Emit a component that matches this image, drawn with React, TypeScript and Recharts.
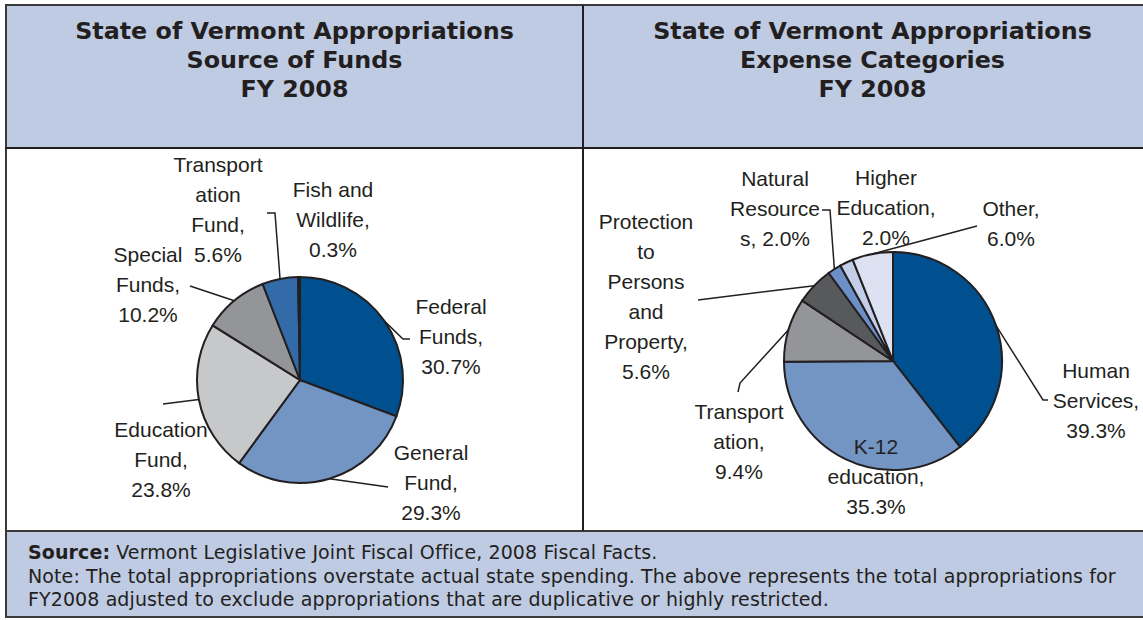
import React from 'react';
import { Cell, Pie, PieChart } from 'recharts';

const INK = '#231f20';
const PANEL = '#bfcbe3';
const RULE = '#3a3a3a';

// left pie: where the money comes from (percent of total appropriations)
const fundNames = ['Federal Funds', 'General Fund', 'Education Fund', 'Special Funds', 'Transportation Fund', 'Fish and Wildlife'];
const fundShares = [30.7, 29.3, 23.8, 10.2, 5.6, 0.3];
const fundColors = ['#00508f', '#7395c4', '#c7c8ca', '#939598', '#336aa8', '#231f20'];
const fundLabelLines = [
  ['Federal', 'Funds,'],
  ['General', 'Fund,'],
  ['Education', 'Fund,'],
  ['Special', 'Funds,'],
  ['Transport', 'ation', 'Fund,'],
  ['Fish and', 'Wildlife,'],
];

// right pie: what it is spent on
const expenseNames = ['Human Services', 'K-12 education', 'Transportation', 'Protection to Persons and Property', 'Natural Resources', 'Higher Education', 'Other'];
const expenseShares = [39.3, 35.3, 9.4, 5.6, 2.0, 2.0, 6.0];
const expenseColors = ['#00508f', '#7395c4', '#939598', '#58595b', '#6b8fc6', '#c3cfe8', '#dce2f1'];
const expenseLabelLines = [
  ['Human', 'Services,'],
  ['K-12', 'education,'],
  ['Transport', 'ation,'],
  ['Protection', 'to', 'Persons', 'and', 'Property,'],
  ['Natural', 'Resource', 's,'],
  ['Higher', 'Education,'],
  ['Other,'],
];

const fundData = fundNames.map((name, i) => ({ name, value: fundShares[i] }));
const expenseData = expenseNames.map((name, i) => ({ name, value: expenseShares[i] }));

// label placement, offsets from the pie centre (first text line centre, leader bends)
type Placement = { dx: number; dy: number; join?: boolean; leader?: number[][] };

const fundPlacement: Placement[] = [
  { dx: 151, dy: -73, leader: [[103, -41], [110, -41]] },
  { dx: 131, dy: 73, leader: [[88, 107]] },
  { dx: -139, dy: 50, leader: [[-137, 24]] },
  { dx: -152, dy: -125, leader: [[-110, -94]] },
  { dx: -82, dy: -215, leader: [[-25, -167], [-33, -167]] },
  { dx: 33, dy: -190 },
];

const expensePlacement: Placement[] = [
  { dx: 203, dy: 10, leader: [[150, 39], [155, 39]] },
  { dx: -17, dy: 86 },
  { dx: -154, dy: 51, leader: [[-153, 22], [-155, 31]] },
  { dx: -247, dy: -139, leader: [[-195, -61]] },
  { dx: -118, dy: -182, join: true, leader: [[-63, -151], [-71, -151]] },
  { dx: -7, dy: -183 },
  { dx: 118, dy: -152, leader: [[84, -135]] },
];

const NO_MARGIN = { top: 0, right: 0, bottom: 0, left: 0 };

function pieLabel(lines: string[][], place: Placement[]) {
  return (props: any) => {
    const { cx, cy, midAngle, outerRadius, index, value } = props;
    const p = place[index];
    const pct = `${Number(value).toFixed(1)}%`;
    const src = lines[index];
    const rows = p.join ? [...src.slice(0, -1), `${src[src.length - 1]} ${pct}`] : [...src, pct];
    const tx = cx + p.dx;
    const ty = cy + p.dy;
    let leader = null;
    if (p.leader) {
      const a = (-midAngle * Math.PI) / 180;
      const pts = [[cx + outerRadius * Math.cos(a), cy + outerRadius * Math.sin(a)], ...p.leader.map(([x, y]) => [cx + x, cy + y])];
      leader = <polyline points={pts.map((q) => q.join(',')).join(' ')} fill="none" stroke={INK} strokeWidth={1.5} />;
    }
    return (
      <g key={`lbl-${index}`}>
        {leader}
        <text x={tx} y={ty} textAnchor="middle" fill={INK} fontSize={21} fontFamily="'Liberation Sans', Arial, sans-serif">
          {rows.map((r, i) => (
            <tspan key={i} x={tx} y={ty + i * 30} dy="0.35em">
              {r}
            </tspan>
          ))}
        </text>
      </g>
    );
  };
}

const titleStyle: React.CSSProperties = {
  position: 'absolute',
  top: 17,
  width: 577,
  textAlign: 'center',
  fontFamily: "'DejaVu Sans', Verdana, sans-serif",
  fontWeight: 'bold',
  fontSize: 23.8,
  lineHeight: '29px',
  color: INK,
};

export default function App() {
  return (
    <div style={{ position: 'absolute', left: 0, top: 0, width: 1143, height: 620, overflow: 'hidden', background: '#fff' }}>
      <div style={{ position: 'absolute', left: 5, top: 5, width: 1160, height: 143, background: PANEL }} />
      <div style={{ position: 'absolute', left: 5, top: 531, width: 1160, height: 87, background: PANEL }} />

      <div style={{ ...titleStyle, left: 6 }}>
        State of Vermont Appropriations
        <br />
        Source of Funds
        <br />
        FY 2008
      </div>
      <div style={{ ...titleStyle, left: 584 }}>
        State of Vermont Appropriations
        <br />
        Expense Categories
        <br />
        FY 2008
      </div>

      <div style={{ position: 'absolute', left: 7, top: 149 }}>
        <PieChart width={575} height={381} margin={NO_MARGIN}>
          <Pie
            data={fundData}
            dataKey="value"
            nameKey="name"
            cx={293}
            cy={231}
            outerRadius={103}
            startAngle={90}
            endAngle={-270}
            stroke={INK}
            strokeWidth={2}
            labelLine={false}
            label={pieLabel(fundLabelLines, fundPlacement)}
            isAnimationActive={false}
          >
            {fundData.map((d, i) => (
              <Cell key={d.name} fill={fundColors[i]} />
            ))}
          </Pie>
        </PieChart>
      </div>

      <div style={{ position: 'absolute', left: 585, top: 149 }}>
        <PieChart width={575} height={381} margin={NO_MARGIN}>
          <Pie
            data={expenseData}
            dataKey="value"
            nameKey="name"
            cx={308}
            cy={212}
            outerRadius={109}
            startAngle={90}
            endAngle={-270}
            stroke={INK}
            strokeWidth={2}
            labelLine={false}
            label={pieLabel(expenseLabelLines, expensePlacement)}
            isAnimationActive={false}
          >
            {expenseData.map((d, i) => (
              <Cell key={d.name} fill={expenseColors[i]} />
            ))}
          </Pie>
        </PieChart>
      </div>

      <div
        style={{
          position: 'absolute',
          left: 28,
          top: 541,
          whiteSpace: 'nowrap',
          fontFamily: "'DejaVu Sans', Verdana, sans-serif",
          fontSize: 19,
          letterSpacing: 0.1,
          lineHeight: '23.5px',
          color: INK,
        }}
      >
        <b>Source:</b> Vermont Legislative Joint Fiscal Office, 2008 Fiscal Facts.
        <br />
        Note: The total appropriations overstate actual state spending. The above represents the total appropriations for
        <br />
        FY2008 adjusted to exclude appropriations that are duplicative or highly restricted.
      </div>

      {/* table rules */}
      <div style={{ position: 'absolute', left: 5, top: 4, width: 1160, height: 614, border: `2px solid ${RULE}`, boxSizing: 'border-box' }} />
      <div style={{ position: 'absolute', left: 5, top: 147, width: 1160, height: 2, background: INK }} />
      <div style={{ position: 'absolute', left: 5, top: 530, width: 1160, height: 2, background: RULE }} />
      <div style={{ position: 'absolute', left: 582, top: 5, width: 2, height: 526, background: INK }} />
    </div>
  );
}
